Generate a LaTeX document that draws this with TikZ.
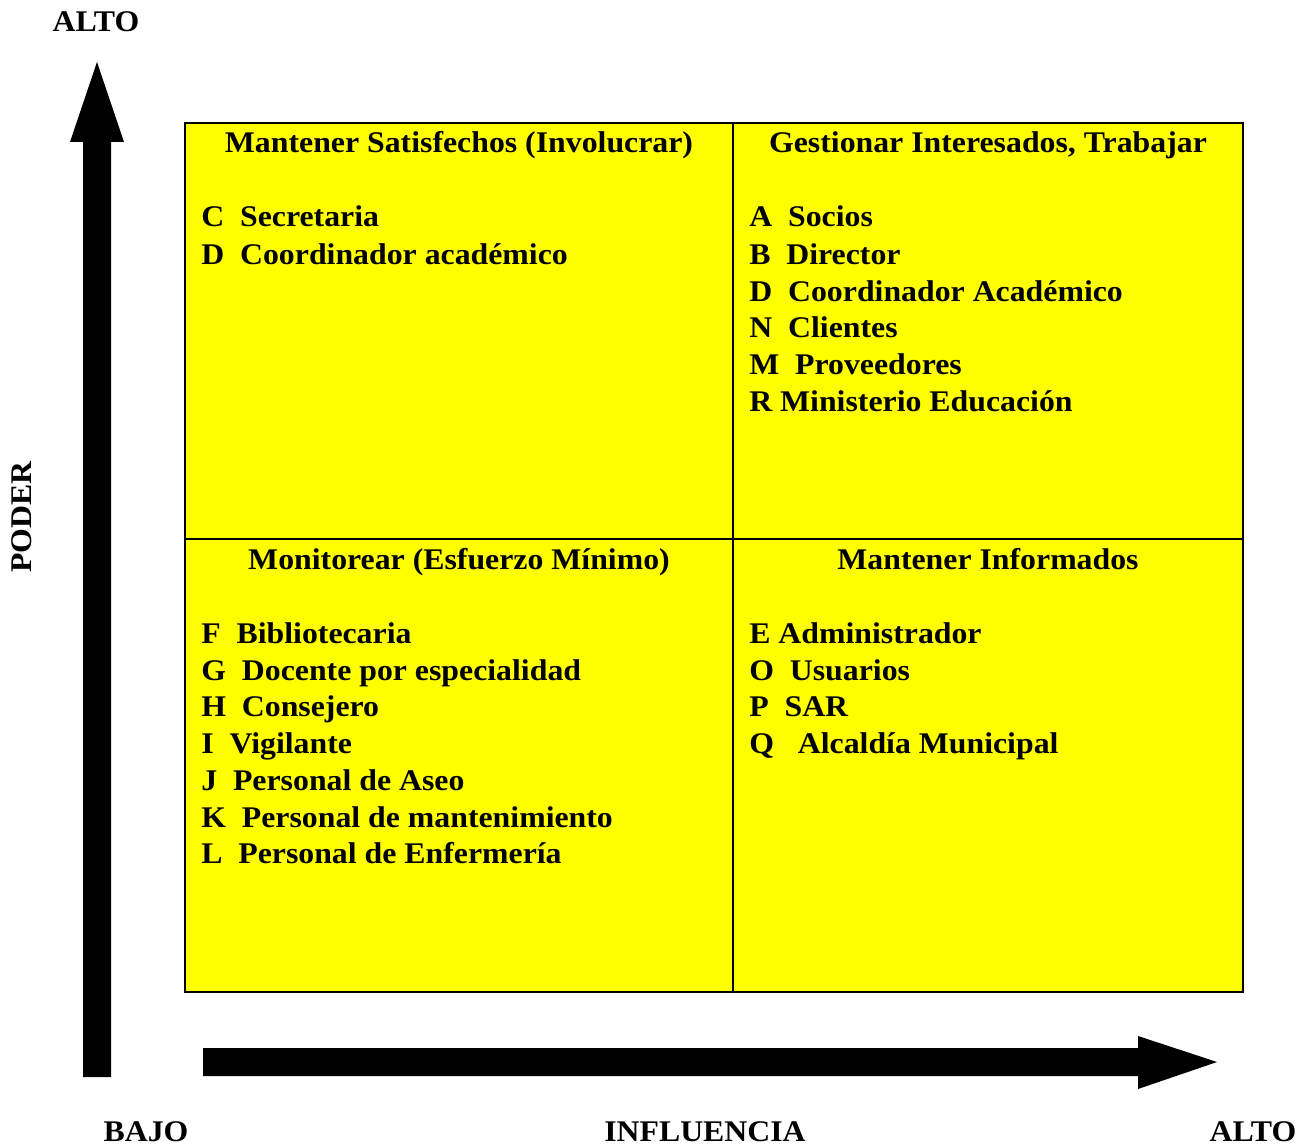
\documentclass[tikz,border=0pt]{standalone}
\usepackage{fontspec}
\setmainfont{Liberation Serif}[FakeStretch=1.06]
\definecolor{qyellow}{RGB}{255,255,0}
\begin{document}
\begin{tikzpicture}[x=0.75pt,y=-0.75pt,
  lbl/.style={font=\fontsize{22.5}{27}\selectfont\bfseries, inner sep=0pt},
  item/.style={lbl, anchor=base west},
  ttl/.style={lbl, anchor=base}]
\useasboundingbox (0,0) rectangle (1309,1148);
% quadrants
\fill[qyellow] (185,123) rectangle (1243,992);
\draw[line width=1.3pt] (185,123) rectangle (1243,992);
\draw[line width=1.3pt] (733,123) -- (733,992);
\draw[line width=1.3pt] (185,539) -- (1243,539);
% vertical arrow
\fill (83,1077) -- (83,142) -- (70,142) -- (97,62) -- (124,142) -- (111,142) -- (111,1077) -- cycle;
% horizontal arrow
\fill (203,1048) -- (1138,1048) -- (1138,1036) -- (1217,1062) -- (1138,1089) -- (1138,1076) -- (203,1076) -- cycle;
% axis labels
\node[ttl] (altoy) at (96,32) {ALTO};
\node[lbl, rotate=90] (poder) at (22,517) {PODER};
\node[ttl] (bajo) at (146,1141) {BAJO};
\node[ttl] (infl) at (705,1141) {INFLUENCIA};
\node[ttl] (altox) at (1253,1141) {ALTO};
% titles
\node[ttl] (t1) at (459,153) {Mantener Satisfechos (Involucrar)};
\node[ttl] (t2) at (988,153) {Gestionar Interesados, Trabajar};
\node[ttl] (t3) at (459,569) {Monitorear (Esfuerzo Mínimo)};
\node[ttl] (t4) at (988,569) {Mantener Informados};
% top-left items
\node[item] (c) at (201,227) {C\ \ Secretaria};
\node[item] (d) at (201,264) {D\ \ Coordinador académico};
% top-right items
\node[item] (a) at (749,227) {A\ \ Socios};
\node[item] (b) at (749,264) {B\ \ Director};
\node[item] (d2) at (749,301) {D\ \ Coordinador Académico};
\node[item] (n) at (749,337) {N\ \ Clientes};
\node[item] (m) at (749,374) {M\ \ Proveedores};
\node[item] (r) at (749,411) {R Ministerio Educación};
% bottom-left items
\node[item] (f) at (201,643) {F\ \ Bibliotecaria};
\node[item] (g) at (201,680) {G\ \ Docente por especialidad};
\node[item] (h) at (201,716) {H\ \ Consejero};
\node[item] (i) at (201,753) {I\ \ Vigilante};
\node[item] (j) at (201,790) {J\ \ Personal de Aseo};
\node[item] (k) at (201,827) {K\ \ Personal de mantenimiento};
\node[item] (l) at (201,863) {L\ \ Personal de Enfermería};
% bottom-right items
\node[item] (e) at (749,643) {E Administrador};
\node[item] (o) at (749,680) {O\ \ Usuarios};
\node[item] (p) at (749,716) {P\ \ SAR};
\node[item] (q) at (749,753) {Q\ \ \ Alcaldía Municipal};
\end{tikzpicture}
\end{document}
